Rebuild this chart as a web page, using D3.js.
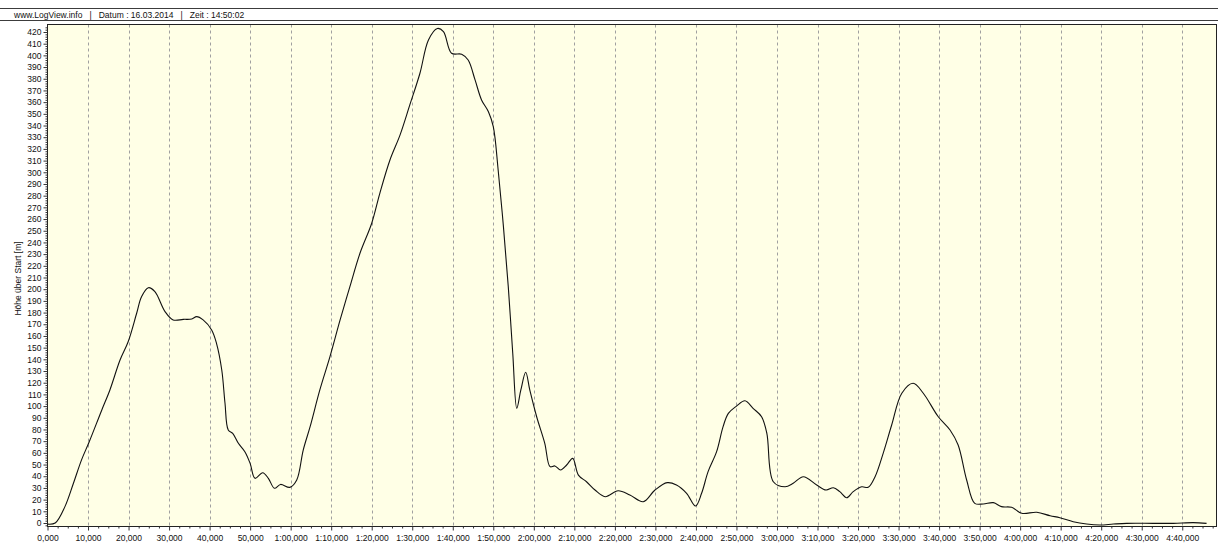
<!DOCTYPE html>
<html>
<head>
<meta charset="utf-8">
<script src="https://cdn.jsdelivr.net/npm/d3@7"></script>
<style>
    body { margin: 0; background: #ffffff; }
    svg { display: block; font-family: "Liberation Sans", Arial, sans-serif; }
</style>
</head>
<body>
<svg id="chart"></svg>
<script>
// Flight log: time in seconds, height above start in metres
const times = [
    0, 1.9, 4.3, 6.4, 8.4, 10.3, 13.4, 15.4, 17.9, 19.9,
    22, 23.2, 24.9, 26.5, 29, 31, 33.5, 35.6, 36.8, 38.4,
    40.5, 41.7, 43, 43.8, 44.6, 45.7, 47.1, 48.7, 50, 51.2,
    53.1, 54.5, 56, 57.5, 59.8, 61.5, 63.1, 64.8, 67.2, 69.7,
    72.2, 74.6, 77.1, 80, 82, 84.5, 87, 89.4, 91.9, 94,
    96.2, 97.7, 99.7, 102.2, 103.8, 105.5, 107.1, 108.8, 110, 111.2,
    112.5, 113.7, 114.8, 115.8, 116.8, 118, 119, 120.7, 122.7, 124,
    125.2, 126.6, 128.1, 129.6, 131, 133, 135.1, 137.6, 140.8, 143.7,
    147, 149.9, 152.9, 155.2, 157.7, 159.9, 161.4, 163, 165.1, 166.7,
    168, 170, 172.1, 174.1, 176.2, 177.5, 179.1, 182, 184, 186.5,
    189.8, 192.1, 193.9, 195.5, 197.2, 198.8, 200.9, 202.5, 204.2, 206.2,
    208.3, 210.8, 213.6, 216.1, 219.8, 222.7, 224.7, 226.8, 228.8, 230.9,
    233.4, 235.4, 237.9, 240.4, 244.1, 247.4, 249.8, 253.1, 256.4, 259.7,
    263, 266.3, 272.8, 277.8, 282.7, 286
];

const heights = [
    -1, 0, 14, 34, 54, 69.5, 96.7, 113.8, 139.4, 155,
    179.4, 193.6, 201.3, 197.9, 180.8, 173.7, 174.2, 174.5, 176.5, 173.7,
    165.1, 153.7, 130.9, 102.4, 79.6, 76.7, 68.2, 61, 51, 38.2,
    43, 38.2, 29.7, 33, 30.5, 36.8, 62.4, 82.4, 113.8, 142.3,
    173.7, 202, 230.7, 256.4, 282, 310.5, 332, 357.6, 384.7, 413.2,
    423, 420.3, 401.8, 401, 396, 379, 361.9, 351.8, 339, 302,
    253.5, 202, 145.2, 98.1, 113.8, 128.9, 113.8, 90.9, 68.2, 48.2,
    48.8, 45.3, 49.6, 55.3, 41, 35.3, 28.2, 22.5, 27.6, 24,
    18.2, 28.2, 34.5, 32.5, 25.4, 14.5, 25.4, 43.9, 61, 82.4,
    93.8, 100, 104.6, 98.1, 90.9, 76.7, 35.3, 31, 34, 39.6,
    32.5, 28.2, 30.2, 26.8, 21.6, 26.8, 31, 30.5, 39.6, 59.6,
    83.8, 111, 119.5, 111, 90.9, 79.6, 66.7, 36.8, 16.8, 16.3,
    17.4, 14, 13.4, 8.3, 9.2, 6.2, 4.5, 1.1, -0.9, -1.7,
    -0.9, -0.3, -0.3, -0.3, 0.3, -0.3
];

const xTicks = d3.range(0, 281, 10);
const yTicks = d3.range(0, 421, 10);

const headerText = "www.LogView.info   |   Datum : 16.03.2014   |   Zeit : 14:50:02";
const yTitle = "Höhe über Start [m]";

const width = 1218;
const height = 543;
const plot = { left: 47.5, right: 1216.5, top: 24.5, bottom: 526.5 };

const svg = d3.select("#chart").attr("width", width).attr("height", height);

// Header strip
svg.append("line")
    .attr("x1", 0).attr("x2", width).attr("y1", 8.5).attr("y2", 8.5)
    .attr("stroke", "#3c3c3c");
svg.append("line")
    .attr("x1", 0).attr("x2", width).attr("y1", 20.5).attr("y2", 20.5)
    .attr("stroke", "#3c3c3c");
svg.append("text")
    .attr("x", 14).attr("y", 17.5)
    .attr("font-size", 8.5)
    .attr("fill", "#111")
    .style("white-space", "pre")
    .attr("xml:space", "preserve")
    .text(headerText);

const x = d3.scaleLinear().domain([0, 288.5]).range([47.5, 1216.7]);
const y = d3.scaleLinear().domain([0, 420]).range([523, 32]);

// Plot background
svg.append("rect")
    .attr("x", plot.left).attr("y", plot.top)
    .attr("width", plot.right - plot.left).attr("height", plot.bottom - plot.top)
    .attr("fill", "#ffffe6");

// Vertical dashed grid
svg.append("g")
    .selectAll("line")
    .data(xTicks.filter(d => d > 0))
    .join("line")
    .attr("x1", d => Math.round(x(d)) + 0.5).attr("x2", d => Math.round(x(d)) + 0.5)
    .attr("y1", plot.top).attr("y2", plot.bottom)
    .attr("stroke", "#a0a0a0")
    .attr("stroke-dasharray", "3,3");

// Frame
svg.append("rect")
    .attr("x", plot.left).attr("y", plot.top)
    .attr("width", plot.right - plot.left).attr("height", plot.bottom - plot.top)
    .attr("fill", "none")
    .attr("stroke", "#222");

// X axis
const fmtTime = (s) => {
    if (s < 60) return s + ",000";
    const m = Math.floor(s / 60);
    const r = s % 60;
    return m + ":" + String(r).padStart(2, "0") + ",000";
};

const xAxis = svg.append("g")
    .attr("transform", `translate(0,${plot.bottom})`)
    .call(d3.axisBottom(x).tickValues(xTicks).tickFormat(fmtTime).tickSize(4).tickSizeOuter(0));
xAxis.select(".domain").remove();
xAxis.selectAll(".tick line").attr("stroke", "#333");
xAxis.selectAll(".tick text")
    .attr("font-size", 8.5)
    .attr("font-family", "Liberation Sans, Arial, sans-serif")
    .attr("fill", "#111")
    .attr("dy", "0.9em");

const xMinor = svg.append("g")
    .attr("transform", `translate(0,${plot.bottom})`)
    .call(d3.axisBottom(x).tickValues(d3.range(0, 288, 2.5).filter(d => d % 10 !== 0)).tickFormat("").tickSize(2).tickSizeOuter(0));
xMinor.select(".domain").remove();
xMinor.selectAll(".tick line").attr("stroke", "#333");

// Y axis
const yAxis = svg.append("g")
    .attr("transform", `translate(${plot.left},0)`)
    .call(d3.axisLeft(y).tickValues(yTicks).tickSize(4).tickSizeOuter(0).tickPadding(2));
yAxis.select(".domain").remove();
yAxis.selectAll(".tick line").attr("stroke", "#333");
yAxis.selectAll(".tick text")
    .attr("font-size", 8.5)
    .attr("font-family", "Liberation Sans, Arial, sans-serif")
    .attr("fill", "#111");

const yMinor = svg.append("g")
    .attr("transform", `translate(${plot.left},0)`)
    .call(d3.axisLeft(y).tickValues(d3.range(-2, 426, 2).filter(d => d % 10 !== 0)).tickFormat("").tickSize(2).tickSizeOuter(0));
yMinor.select(".domain").remove();
yMinor.selectAll(".tick line").attr("stroke", "#333");

svg.append("text")
    .attr("transform", `translate(21,${(plot.top + plot.bottom) / 2 + 3}) rotate(-90)`)
    .attr("text-anchor", "middle")
    .attr("font-size", 8.5)
    .attr("fill", "#111")
    .text(yTitle);

// Height curve
const points = times.map((t, i) => [t, heights[i]]);

const line = d3.line()
    .x(d => x(d[0]))
    .y(d => y(d[1]))
    .curve(d3.curveCatmullRom.alpha(0.5));

svg.append("path")
    .datum(points)
    .attr("fill", "none")
    .attr("stroke", "#111")
    .attr("stroke-width", 1.1)
    .attr("d", line);
</script>
</body>
</html>
